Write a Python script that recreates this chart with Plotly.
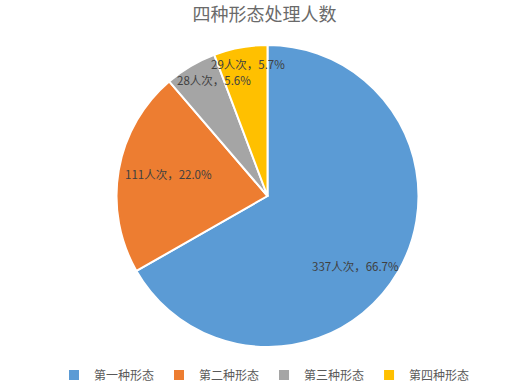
import math
import plotly.graph_objects as go

categories = ["第一种形态", "第二种形态", "第三种形态", "第四种形态"]
values = [337, 111, 28, 29]
pct_labels = ["66.7%", "22.0%", "5.6%", "5.7%"]
colors = ["#5B9BD5", "#ED7D31", "#A5A5A5", "#FFC000"]

W, H = 529, 385
cx, cy, R = 267.5, 196.0, 151.0  # pixel centre / radius of the pie

# label placement (style): radial factor and angular shift in degrees
label_rf = [0.745, 0.67, 0.845, 0.883]
label_shift = [8.5, 3.0, 6.0, 2.0]

fig = go.Figure()
fig.add_trace(go.Pie(
    labels=categories,
    values=values,
    sort=False,
    direction="clockwise",
    rotation=0,
    textinfo="none",
    marker=dict(colors=colors, line=dict(color="white", width=2)),
    domain=dict(x=[(cx - R) / W, (cx + R) / W],
                y=[(H - cy - R) / H, (H - cy + R) / H]),
    showlegend=True,
))

total = sum(values)
cum = 0
annotations = []
for v, p, rf, sh in zip(values, pct_labels, label_rf, label_shift):
    mid = (cum + v / 2) / total * 360 + sh
    cum += v
    a = math.radians(mid)
    px = cx + rf * R * math.sin(a)
    py = cy - rf * R * math.cos(a)
    annotations.append(dict(
        x=px / W, y=1 - py / H, xref="paper", yref="paper",
        text=f"{v}人次，{p}", showarrow=False,
        xanchor="center", yanchor="middle",
        font=dict(size=11.5, color="#404040",
                  family="Noto Sans CJK SC, sans-serif"),
    ))

fig.update_layout(
    width=W, height=H,
    margin=dict(l=0, r=0, t=0, b=0, pad=0, autoexpand=False),
    paper_bgcolor="white",
    plot_bgcolor="white",
    title=dict(text="四种形态处理人数", x=0.5, xanchor="center",
               y=1 - 15 / H, yanchor="middle",
               font=dict(size=18, color="#6a6a6a",
                         family="Noto Sans CJK SC, sans-serif")),
    legend=dict(orientation="h", x=0.5, xanchor="center",
                y=1 - 375 / H, yanchor="middle",
                font=dict(size=12, color="#595959",
                          family="Noto Sans CJK SC, sans-serif"),
                itemwidth=30, tracegroupgap=0),
    annotations=annotations,
)

fig.write_html("out.html",
               config={"displayModeBar": False},
               post_script="document.body.style.margin='0';")
